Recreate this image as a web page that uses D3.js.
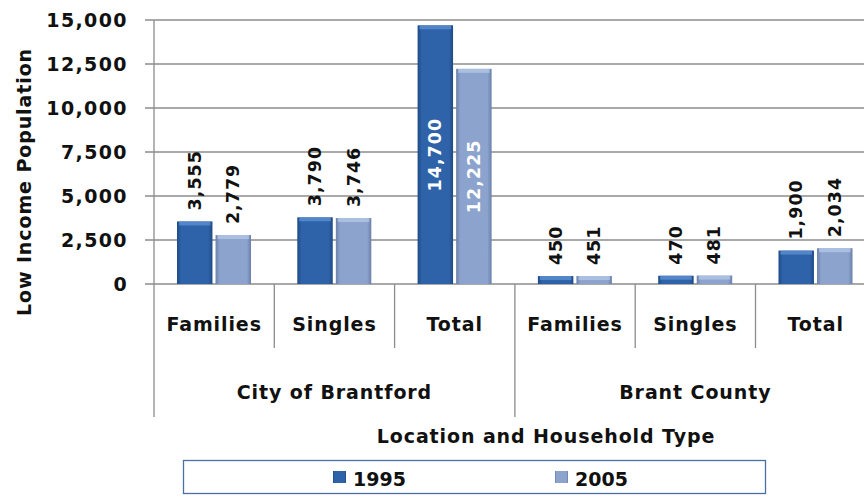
<!DOCTYPE html>
<html>
<head>
<meta charset="utf-8">
<script src="https://cdn.jsdelivr.net/npm/d3@7"></script>
<style>
body { margin: 0; background: #fff; }
text { font-family: "DejaVu Sans", sans-serif; font-weight: bold; }
</style>
</head>
<body>
<div class="container"></div>
<script>
const groups = ["City of Brantford", "Brant County"]
const types = ["Families", "Singles", "Total"]
const years = ["1995", "2005"]
const values1995 = [3555, 3790, 14700, 450, 470, 1900]
const values2005 = [2779, 3746, 12225, 451, 481, 2034]
const yTicks = [0, 2500, 5000, 7500, 10000, 12500, 15000]

const categories = []
groups.forEach((g) => types.forEach((t) => categories.push(g + "|" + t)))

const width = 864, height = 497
const plotLeft = 154, plotTop = 20, plotBottom = 284
const bandW = 120.3

const svg = d3.select(".container")
              .append("svg")
              .attr("width", width)
              .attr("height", height)

const defs = svg.append("defs")
const makeGrad = (id, edge, mid) => {
    const g = defs.append("linearGradient").attr("id", id)
                  .attr("x1", 0).attr("x2", 1).attr("y1", 0).attr("y2", 0)
    g.append("stop").attr("offset", "0%").attr("stop-color", edge)
    g.append("stop").attr("offset", "12%").attr("stop-color", mid)
    g.append("stop").attr("offset", "88%").attr("stop-color", mid)
    g.append("stop").attr("offset", "100%").attr("stop-color", edge)
}
makeGrad("g1995", "#1d4a86", "#2f63a9")
makeGrad("g2005", "#6a80aa", "#8ca3cd")
const colors = { "1995": "url(#g1995)", "2005": "url(#g2005)" }
const topColors = { "1995": "#5d8fd0", "2005": "#b3c6e6" }

const x = d3.scaleBand().domain(categories).range([plotLeft, plotLeft + bandW * 6])
const xs = d3.scaleBand().domain(years).range([23, 97]).paddingInner(0.08)
const y = d3.scaleLinear().domain([0, 15000]).range([plotBottom, plotTop])

// grid + y ticks
svg.selectAll(".grid")
   .data(yTicks)
   .enter()
   .append("line")
   .attr("x1", plotLeft - 9).attr("x2", width)
   .attr("y1", (d) => y(d)).attr("y2", (d) => y(d))
   .attr("stroke", "#8c8c8c").attr("stroke-width", 1.3)

svg.selectAll(".ytick")
   .data(yTicks)
   .enter()
   .append("text")
   .attr("x", plotLeft - 26)
   .attr("y", (d) => y(d) + 7)
   .attr("text-anchor", "end")
   .attr("font-size", 19)
   .attr("letter-spacing", 1.4)
   .attr("fill", "#111")
   .text((d) => d3.format(",")(d))

// left axis
svg.append("line").attr("x1", plotLeft).attr("x2", plotLeft).attr("y1", plotTop).attr("y2", 417)
   .attr("stroke", "#8c8c8c").attr("stroke-width", 1.3)

// category separators
categories.forEach((c, i) => {
    if (i === 0) return
    const xx = x(c)
    const isGroup = i % 3 === 0
    svg.append("line").attr("x1", xx).attr("x2", xx)
       .attr("y1", plotBottom).attr("y2", isGroup ? 417 : 348)
       .attr("stroke", "#8c8c8c").attr("stroke-width", 1.3)
})

const data = []
categories.forEach((c, i) => {
    data.push({ cat: c, year: "1995", value: values1995[i] })
    data.push({ cat: c, year: "2005", value: values2005[i] })
})

const bars = svg.selectAll(".bar")
                .data(data)
                .enter()
                .append("g")

bars.append("rect")
    .attr("x", (d) => x(d.cat) + xs(d.year))
    .attr("y", (d) => y(d.value))
    .attr("width", xs.bandwidth())
    .attr("height", (d) => y(0) - y(d.value))
    .attr("fill", (d) => colors[d.year])

bars.append("rect")
    .attr("x", (d) => x(d.cat) + xs(d.year) + 2)
    .attr("y", (d) => y(d.value))
    .attr("width", xs.bandwidth() - 4)
    .attr("height", (d) => Math.min(4, y(0) - y(d.value)))
    .attr("fill", (d) => topColors[d.year])
    .attr("opacity", 0.8)

bars.append("text")
    .attr("transform", (d) => {
        const cx = x(d.cat) + xs(d.year) + xs.bandwidth() / 2 + 6
        const inside = d.value > 10000
        const yy = inside ? (y(d.value) + y(0)) / 2 : y(d.value) - 11
        return "translate(" + cx + "," + yy + ") rotate(-90)"
    })
    .attr("text-anchor", (d) => d.value > 10000 ? "middle" : "start")
    .attr("font-size", 17.5)
    .attr("letter-spacing", 1)
    .attr("fill", (d) => d.value > 10000 ? "#fff" : "#111")
    .text((d) => d3.format(",")(d.value))

// category labels
svg.selectAll(".cat")
   .data(categories)
   .enter()
   .append("text")
   .attr("x", (d) => x(d) + bandW / 2)
   .attr("y", 331)
   .attr("text-anchor", "middle")
   .attr("font-size", 19)
   .attr("letter-spacing", 0.9)
   .attr("fill", "#111")
   .text((d) => d.split("|")[1])

svg.selectAll(".grp")
   .data(groups)
   .enter()
   .append("text")
   .attr("x", (d, i) => plotLeft + bandW * 1.5 + i * bandW * 3)
   .attr("y", 399)
   .attr("text-anchor", "middle")
   .attr("font-size", 19)
   .attr("letter-spacing", 0.9)
   .attr("fill", "#111")
   .text((d) => d)

svg.append("text")
   .attr("x", 546).attr("y", 443)
   .attr("text-anchor", "middle")
   .attr("font-size", 19).attr("letter-spacing", 0.9).attr("fill", "#111")
   .text("Location and Household Type")

svg.append("text")
   .attr("transform", "translate(31,182) rotate(-90)")
   .attr("text-anchor", "middle")
   .attr("font-size", 19).attr("letter-spacing", 0.9).attr("fill", "#111")
   .text("Low Income Population")

// legend
svg.append("rect").attr("x", 183.5).attr("y", 460.5).attr("width", 582).attr("height", 33)
   .attr("fill", "#fff").attr("stroke", "#4a6fa5").attr("stroke-width", 1.3)

const legendX = [333, 555]
years.forEach((yr, i) => {
    svg.append("rect").attr("x", legendX[i]).attr("y", 471).attr("width", 13).attr("height", 12)
       .attr("fill", colors[yr])
    svg.append("text").attr("x", legendX[i] + 20).attr("y", 486)
       .attr("font-size", 19).attr("fill", "#111").text(yr)
})
</script>
</body>
</html>
